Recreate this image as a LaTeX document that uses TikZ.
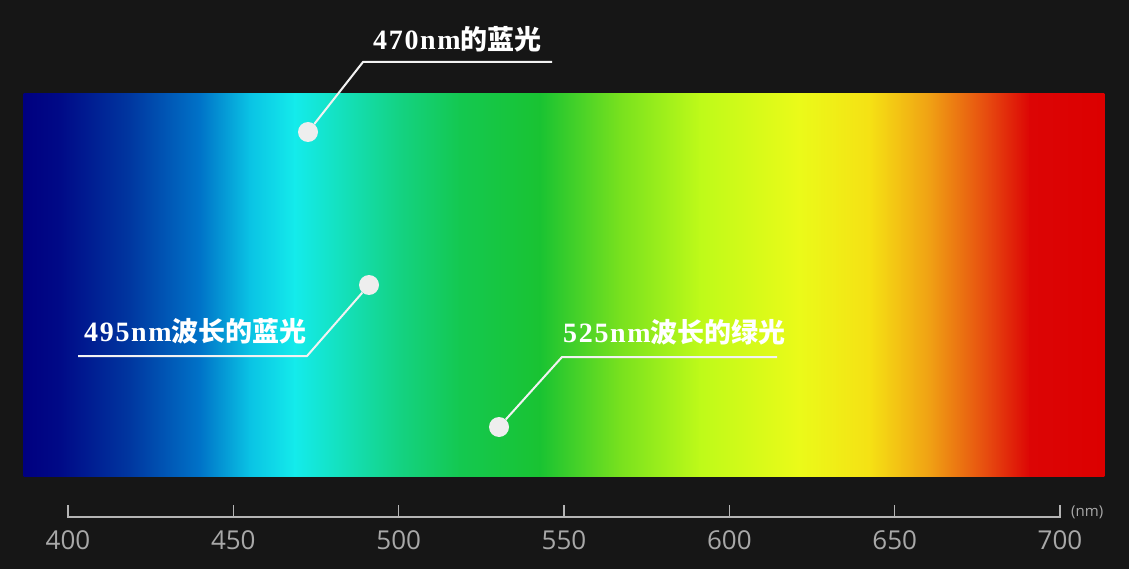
\documentclass[tikz,border=0pt]{standalone}
\usepackage{fontspec}
\newfontfamily\cjk{Noto Sans CJK SC}
\newfontfamily\lat{Liberation Serif}[LetterSpace=6]
\newfontfamily\axisfont{Open Sans}
\definecolor{bg}{HTML}{161616}
\definecolor{dotc}{HTML}{EEEEEE}
\definecolor{linec}{HTML}{F2F2F2}
\definecolor{axisc}{HTML}{B4B4B4}
\definecolor{axtext}{HTML}{A8A8A8}
\definecolor{s0}{RGB}{0,0,128}
\definecolor{s1}{RGB}{0,10,135}
\definecolor{s2}{RGB}{0,55,160}
\definecolor{s3}{RGB}{0,115,200}
\definecolor{s4}{RGB}{10,195,228}
\definecolor{s5}{RGB}{20,235,235}
\definecolor{s6}{RGB}{20,225,190}
\definecolor{s7}{RGB}{20,210,130}
\definecolor{s8}{RGB}{20,200,80}
\definecolor{s9}{RGB}{25,195,50}
\definecolor{s10}{RGB}{120,225,30}
\definecolor{s11}{RGB}{190,250,25}
\definecolor{s12}{RGB}{235,250,25}
\definecolor{s13}{RGB}{245,225,20}
\definecolor{s14}{RGB}{240,160,20}
\definecolor{s15}{RGB}{230,70,15}
\definecolor{s16}{RGB}{220,5,5}
\definecolor{s17}{RGB}{220,0,0}
\begin{document}
\begin{tikzpicture}[x=1pt,y=-1pt,
  dot/.style={circle,fill=dotc,minimum size=20pt,inner sep=0pt},
  leader/.style={draw=linec,line width=2pt,line join=miter},
  lbl/.style={text=white,font=\bfseries,inner sep=0pt,anchor=base west},
  axisline/.style={draw=axisc,line width=1.4pt},
  ticklbl/.style={text=axtext,font=\axisfont\fontsize{26}{28}\selectfont,inner sep=0pt,anchor=base},
  unitlbl/.style={text=axtext,font=\axisfont\fontsize{15}{17}\selectfont,inner sep=0pt,anchor=base west}]
\newcommand\latpart[1]{{\lat\fontsize{28}{30}\selectfont #1}}
\newcommand\cjkpart[1]{{\cjk\fontsize{27}{29}\selectfont #1}}
\useasboundingbox (0,0) rectangle (1129,569);
\fill[bg] (0,0) rectangle (1129,569);
% spectrum
\foreach \xa/\xb/\ca/\cb in {24/60/s0/s1,60/130/s1/s2,130/200/s2/s3,200/250/s3/s4,250/295/s4/s5,295/340/s5/s6,340/400/s6/s7,400/460/s7/s8,460/540/s8/s9,540/620/s9/s10,620/700/s10/s11,700/800/s11/s12,800/870/s12/s13,870/930/s13/s14,930/990/s14/s15,990/1030/s15/s16,1030/1104/s16/s17}
  \shade[left color=\ca,right color=\cb] (\xa-0.3,94) rectangle (\xb+0.3,476);
% callouts
\node[dot] (d1) at (308,132) {};
\coordinate (e1) at (363,62);
\coordinate (f1) at (552,62);
\draw[leader] (d1) -- (e1) -- (f1);
\node[lbl] (l1) at (373,50) {\latpart{470nm}\cjkpart{的蓝光}};

\node[dot] (d2) at (369,285) {};
\coordinate (e2) at (307,356);
\coordinate (f2) at (78,356);
\draw[leader] (d2) -- (e2) -- (f2);
\node[lbl] (l2) at (84,341) {\latpart{495nm}\cjkpart{波长的蓝光}};

\node[dot] (d3) at (499,427) {};
\coordinate (e3) at (562,357);
\coordinate (f3) at (777,357);
\draw[leader] (d3) -- (e3) -- (f3);
\node[lbl] (l3) at (563,342) {\latpart{525nm}\cjkpart{波长的绿光}};
% axis
\foreach \v/\x in {400/68,450/233.3,500/398.7,550/564,600/729.3,650/894.7,700/1060} {
  \coordinate (t\v) at (\x,517);
  \draw[axisline] (\x,517) -- (\x,505);
  \node[ticklbl] (n\v) at (\x,549) {\v};
}
\draw[axisline,line cap=rect] (t400) -- (t700);
\node[unitlbl] (unit) at (1071,516) {(nm)};
\end{tikzpicture}
\end{document}
